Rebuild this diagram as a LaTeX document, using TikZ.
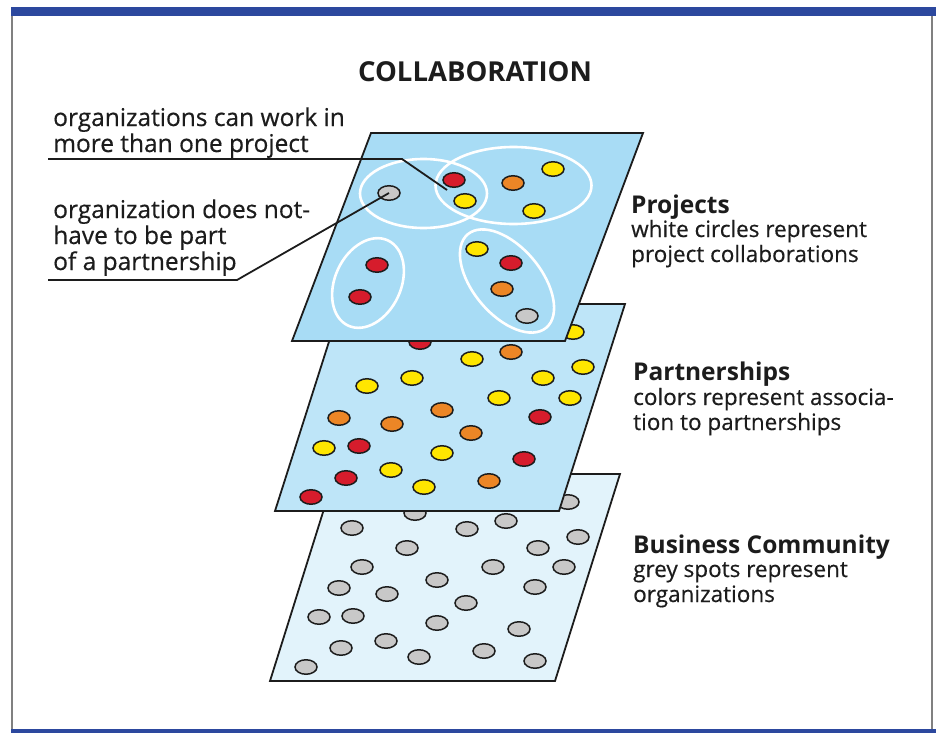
\documentclass[tikz,border=0pt]{standalone}
\usepackage{fontspec}
\setmainfont{Open Sans}
\newfontfamily\notefont{Open Sans}[FakeBold=0.5]
\usetikzlibrary{shapes.geometric}
\definecolor{barblue}{RGB}{44,72,158}
\definecolor{sheetA}{RGB}{168,220,245}
\definecolor{sheetB}{RGB}{190,229,248}
\definecolor{sheetC}{RGB}{226,243,251}
\definecolor{spotred}{RGB}{214,28,44}
\definecolor{spotyellow}{RGB}{255,230,0}
\definecolor{spotorange}{RGB}{236,134,38}
\definecolor{spotgrey}{RGB}{200,200,200}
\definecolor{ink}{RGB}{28,28,28}

\begin{document}
\begin{tikzpicture}[x=1pt,y=-1pt]

    \tikzset{spot/.style = {shape=ellipse,draw=ink,line width=1.5pt,minimum width=22pt,minimum height=14.5pt,inner sep=0pt}}
    \tikzset{sheet/.style = {draw=ink,line width=1.8pt,line join=miter}}
    \tikzset{project/.style = {draw=white,line width=2.6pt}}
    \tikzset{leader/.style = {draw=ink,line width=1.8pt}}
    \tikzset{note/.style = {anchor=base west,align=left,inner sep=0pt,text=ink,font=\notefont\fontsize{24.5}{26}\selectfont}}
    \tikzset{head/.style = {anchor=base west,inner sep=0pt,text=ink,font=\bfseries\fontsize{24.5}{28}\selectfont}}
    \tikzset{desc/.style = {anchor=base west,align=left,inner sep=0pt,text=ink,font=\notefont\fontsize{22.5}{25}\selectfont}}
    \useasboundingbox (0,0) rectangle (936,733);
    %frame
    \fill[barblue] (11,7) rectangle (936,16);
    \fill[barblue] (11,729) rectangle (936,733);
    \draw[gray,line width=1.2pt] (12,16) -- (12,729) (932,16) -- (932,729);
    \node[anchor=base,inner sep=0pt,text=ink,font=\bfseries\fontsize{27.5}{30}\selectfont] (T) at (475,82) {COLLABORATION};
    %business community
    \filldraw[sheet,fill=sheetC] (335,474) -- (620,474) -- (555,681) -- (270,681) -- cycle;
    \foreach \x/\y [count=\i] in {568/502,415/513,506/521,352/528,467/529,578/537,407/548,538/548,
        362/567,493/567,564/567,437/580,339/588,387/594,535/587,466/603,319/617,353/616,
        437/623,519/629,341/648,386/641,419/657,484/651,535/661,306/667}
        \node[spot,fill=spotgrey] (c\i) at (\x,\y) {};
    %partnerships
    \filldraw[sheet,fill=sheetB] (341,304) -- (625,304) -- (559,511) -- (275,511) -- cycle;
    \foreach \x/\y/\c [count=\i] in {420/342/spotred,573/332/spotyellow,511/352/spotorange,
        472/359/spotyellow,583/367/spotyellow,412/378/spotyellow,367/386/spotyellow,
        543/378/spotyellow,499/398/spotyellow,570/398/spotyellow,442/410/spotorange,
        339/418/spotorange,392/424/spotorange,540/417/spotred,471/433/spotorange,
        324/448/spotyellow,359/446/spotred,442/453/spotyellow,524/459/spotred,
        346/478/spotred,391/470/spotyellow,424/487/spotyellow,489/481/spotorange,311/497/spotred}
        \node[spot,fill=\c] (m\i) at (\x,\y) {};
    %projects
    \filldraw[sheet,fill=sheetA] (371,133) -- (643,133) -- (565,341) -- (292,341) -- cycle;
    \draw[project] (423.5,193.5) ellipse (63.5 and 34.5);
    \draw[project] (513.5,185.5) ellipse (78 and 38.5);
    \draw[project,rotate around={65:(368,283)}] (368,283) ellipse (47 and 33);
    \draw[project,rotate around={-50:(507,281)}] (507,281) ellipse (61 and 34);
    \node[spot,fill=spotgrey] (lone) at (389,193) {};
    \foreach \x/\y/\c [count=\i] in {454/180/spotred,465/201/spotyellow,513/183/spotorange,
        553/169/spotyellow,534/211/spotyellow,477/249/spotyellow,511/263/spotred,
        502/289/spotorange,527/316/spotgrey,377/265/spotred,360/297/spotred}
        \node[spot,fill=\c] (p\i) at (\x,\y) {};
    %labels
    \node[note] (L1) at (53,152) {organizations can work in\\more than one project};
    \node[note] (L2) at (53,270) {organization does not-\\have to be part\\of a partnership};
    \coordinate (a1) at (48,159);
    \coordinate (a2) at (402,159);
    \coordinate (a3) at (447,190);
    \coordinate (b1) at (48,280);
    \coordinate (b2) at (237,280);
    \draw[leader] (a1) -- (a2) -- (a3);
    \draw[leader] (b1) -- (b2) -- (lone.center);
    \node[head] (P) at (631,213) {Projects};
    \node[desc] (Pd) at (631,262) {white circles represent\\project collaborations};
    \node[head] (Q) at (633,380) {Partnerships};
    \node[desc] (Qd) at (633,430) {colors represent associa-\\tion to partnerships};
    \node[head] (B) at (633,553) {Business Community};
    \node[desc] (Bd) at (633,602) {grey spots represent\\organizations};
\end{tikzpicture}
\end{document}
